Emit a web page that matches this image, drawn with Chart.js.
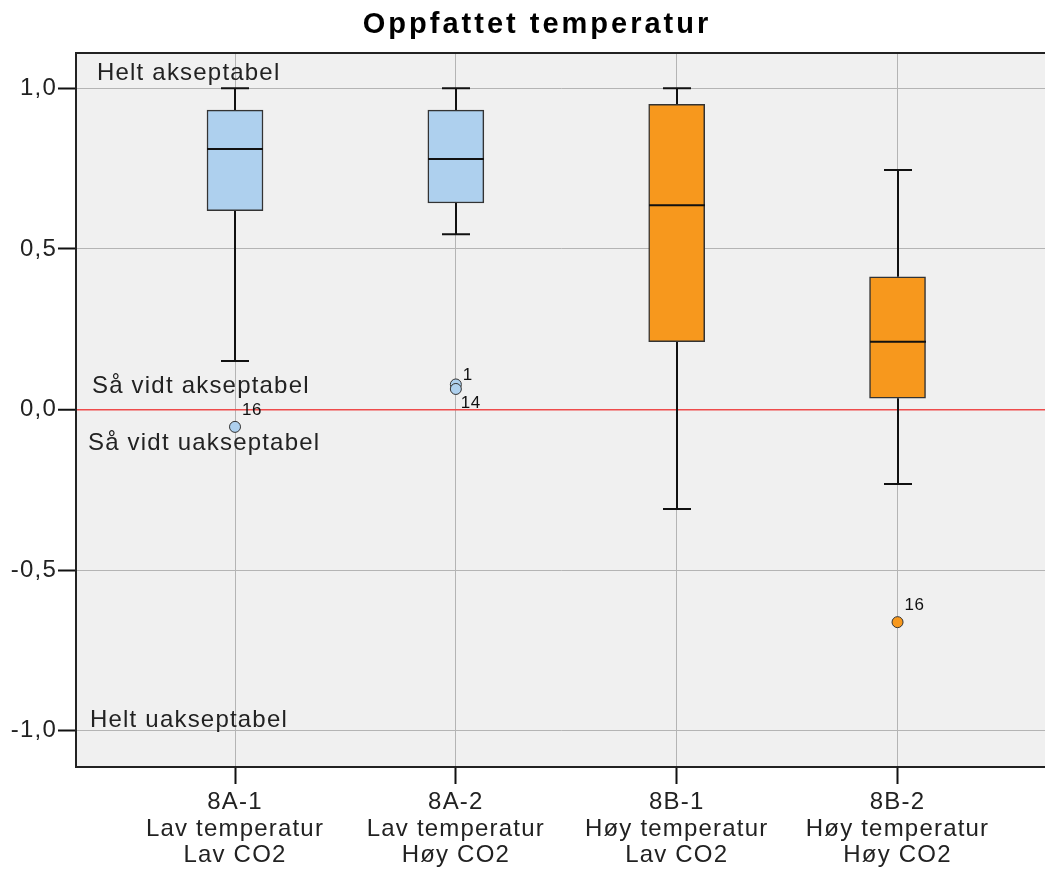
<!DOCTYPE html>
<html>
<head>
<meta charset="utf-8">
<script src="https://cdn.jsdelivr.net/npm/chart.js@4/dist/chart.umd.min.js"></script>
<style>
  html, body { margin: 0; padding: 0; background: #fff; overflow: hidden; }
  #wrap { width: 1052px; height: 872px; }
</style>
</head>
<body>
<div id="wrap"><canvas id="chartTemp"></canvas></div>
<script>
// data
var categories = ["8A-1", "8A-2", "8B-1", "8B-2"];
var catLine2 = ["Lav temperatur", "Lav temperatur", "Høy temperatur", "Høy temperatur"];
var catLine3 = ["Lav CO2", "Høy CO2", "Lav CO2", "Høy CO2"];
var whiskerLow = [0.151, 0.546, -0.310, -0.232];
var q1 = [0.619, 0.643, 0.211, 0.035];
var median = [0.811, 0.780, 0.636, 0.211];
var q3 = [0.932, 0.932, 0.950, 0.413];
var whiskerHigh = [1.0, 1.0, 1.0, 0.746];
var outlierGroup = [0, 1, 1, 3];
var outlierValue = [-0.054, 0.078, 0.064, -0.662];
var outlierCase = ["16", "1", "14", "16"];
var yTicks = [-1, -0.5, 0, 0.5, 1];
var zoneLabels = ["Helt akseptabel", "Så vidt akseptabel", "Så vidt uakseptabel", "Helt uakseptabel"];

var blue = "#aed0ee";
var orange = "#f7981d";
var boxColors = [blue, blue, orange, orange];
var FONT = "'Liberation Sans', Arial, sans-serif";

// where the zone texts sit (y value, px from left edge of plot)
var zoneY = [1.026, 0.052, -0.127, -0.987];
var zoneDx = [21, 16, 12, 14];
// pixel offsets of the case numbers next to outliers
var caseOffset = [[7, -12], [7, -4], [5, 19], [7, -12]];

var boxPlugin = {
    id: "boxParts",
    beforeDraw: function(chart) {
        var ctx = chart.ctx, a = chart.chartArea;
        ctx.save();
        ctx.fillStyle = "#f0f0f0";
        ctx.fillRect(a.left, a.top, a.right - a.left, a.bottom - a.top);
        ctx.restore();
        ctx.letterSpacing = "1.2px";
    },
    beforeDatasetsDraw: function(chart) {
        var ctx = chart.ctx, xs = chart.scales.x, ys = chart.scales.y;
        ctx.save();
        ctx.strokeStyle = "#111";
        ctx.lineWidth = 2;
        for (var i = 0; i < categories.length; i++) {
            var x = Math.round(xs.getPixelForValue(i));
            var yHi = ys.getPixelForValue(whiskerHigh[i]);
            var yLo = ys.getPixelForValue(whiskerLow[i]);
            ctx.beginPath();
            ctx.moveTo(x, ys.getPixelForValue(q3[i]));
            ctx.lineTo(x, yHi);
            ctx.moveTo(x, ys.getPixelForValue(q1[i]));
            ctx.lineTo(x, yLo);
            ctx.moveTo(x - 14, yHi);
            ctx.lineTo(x + 14, yHi);
            ctx.moveTo(x - 14, yLo);
            ctx.lineTo(x + 14, yLo);
            ctx.stroke();
        }
        ctx.restore();
    },
    afterDatasetsDraw: function(chart) {
        var ctx = chart.ctx, xs = chart.scales.x, ys = chart.scales.y, a = chart.chartArea;
        ctx.save();
        ctx.strokeStyle = "#111";
        ctx.lineWidth = 2;
        for (var i = 0; i < categories.length; i++) {
            var x = Math.round(xs.getPixelForValue(i));
            var ym = ys.getPixelForValue(median[i]);
            ctx.beginPath();
            ctx.moveTo(x - 28, ym);
            ctx.lineTo(x + 28, ym);
            ctx.stroke();
        }
        // case numbers
        ctx.fillStyle = "#111";
        ctx.font = "17px " + FONT;
        ctx.letterSpacing = "0.5px";
        ctx.textAlign = "left";
        ctx.textBaseline = "alphabetic";
        for (var k = 0; k < outlierCase.length; k++) {
            var px = xs.getPixelForValue(outlierGroup[k]);
            var py = ys.getPixelForValue(outlierValue[k]);
            ctx.fillText(outlierCase[k], px + caseOffset[k][0], py + caseOffset[k][1]);
        }
        // zone texts
        ctx.fillStyle = "#222";
        ctx.font = "24px " + FONT;
        ctx.letterSpacing = "1.2px";
        for (var z = 0; z < zoneLabels.length; z++) {
            ctx.fillText(zoneLabels[z], a.left + zoneDx[z], ys.getPixelForValue(zoneY[z]));
        }
        // top frame line
        ctx.strokeStyle = "#222";
        ctx.lineWidth = 2;
        ctx.beginPath();
        ctx.moveTo(a.left, a.top);
        ctx.lineTo(a.right, a.top);
        ctx.stroke();
        // title
        ctx.fillStyle = "#000";
        ctx.font = "bold 29px " + FONT;
        ctx.letterSpacing = "3px";
        ctx.textAlign = "center";
        ctx.fillText("Oppfattet temperatur", 537, 33);
        ctx.restore();
    }
};

var ctx = document.getElementById("chartTemp");

var chart = new Chart(ctx, {
    type: "bar",
    data: {
        datasets: [{
            type: "scatter",
            data: outlierGroup.map(function(g, i) { return { x: g, y: outlierValue[i] }; }),
            backgroundColor: outlierGroup.map(function(g) { return boxColors[g]; }),
            borderColor: "#333",
            borderWidth: 1,
            pointRadius: 5.5
        }, {
            type: "bar",
            data: categories.map(function(c, i) { return { x: i, y: [q1[i], q3[i]] }; }),
            backgroundColor: boxColors,
            borderColor: "#333",
            borderWidth: 1.5,
            borderSkipped: false,
            barThickness: 56,
            grouped: false
        }]
    },
    options: {
        responsive: true,
        maintainAspectRatio: false,
        animation: false,
        layout: { padding: { top: 53, left: 0, right: 0, bottom: 0 } },
        plugins: {
            legend: { display: false },
            tooltip: { enabled: false },
            title: { display: false }
        },
        scales: {
            x: {
                type: "linear",
                offset: false,
                min: -0.72,
                max: 3.67,
                afterBuildTicks: function(axis) {
                    axis.ticks = categories.map(function(c, i) { return { value: i }; });
                },
                afterFit: function(axis) {
                    axis.height = 105;
                    axis.paddingRight = 0;
                    axis.paddingLeft = 0;
                },
                ticks: {
                    autoSkip: false,
                    maxRotation: 0,
                    padding: 5,
                    color: "#222",
                    font: { family: FONT, size: 24, lineHeight: 1.11 },
                    callback: function(v) {
                        var i = Math.round(v);
                        return [categories[i], catLine2[i], catLine3[i]];
                    }
                },
                grid: {
                    offset: false,
                    color: "#b4b4b4",
                    lineWidth: 1,
                    tickLength: 17,
                    tickColor: "#111",
                    tickWidth: 2
                },
                border: { display: true, color: "#222", width: 2 }
            },
            y: {
                min: -1.113,
                max: 1.11,
                afterBuildTicks: function(axis) {
                    axis.ticks = yTicks.map(function(v) { return { value: v }; });
                },
                afterFit: function(axis) { axis.width = 76; },
                ticks: {
                    padding: 1,
                    color: "#222",
                    font: { family: FONT, size: 24 },
                    callback: function(v) { return v.toFixed(1).replace(".", ","); }
                },
                grid: {
                    color: function(c) { return c.tick && c.tick.value === 0 ? "#ee4b4b" : "#b4b4b4"; },
                    lineWidth: function(c) { return c.tick && c.tick.value === 0 ? 1.5 : 1; },
                    tickLength: 18,
                    tickColor: "#111",
                    tickWidth: 2
                },
                border: { display: true, color: "#222", width: 2 }
            }
        }
    },
    plugins: [boxPlugin]
});
</script>
</body>
</html>
